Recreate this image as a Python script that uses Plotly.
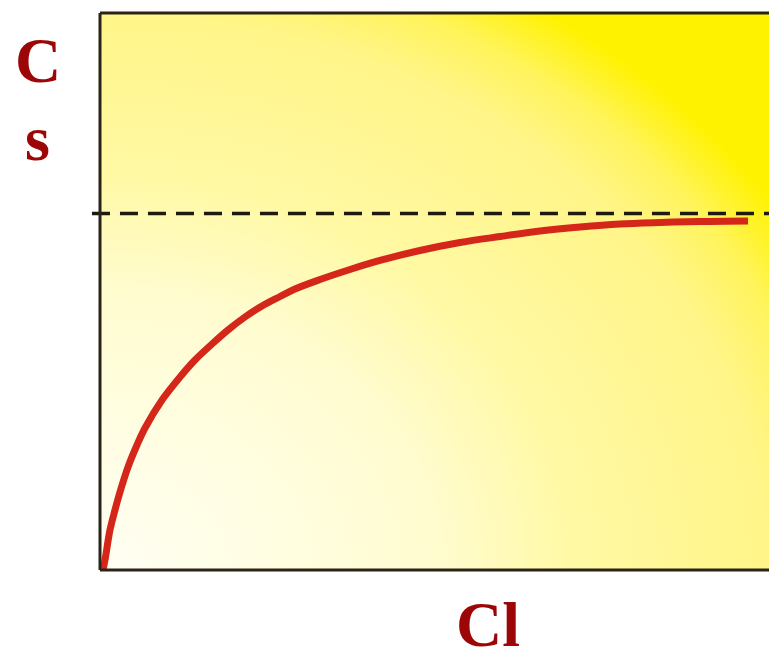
import base64
import plotly.graph_objects as go

# Isotherm: solid-phase concentration Cs against liquid-phase concentration Cl
cl_values = [0.45, 0.75, 1.49, 2.24, 2.99, 4.19, 5.53, 6.73, 9.27, 11.96,
             14.20, 16.74, 19.13, 21.67, 24.22, 26.91, 29.15, 32.89, 37.37,
             41.85, 47.83, 53.81, 59.79, 65.77, 71.75, 77.73, 83.71, 89.69,
             96.86]
cs_values = [0.0, 1.80, 7.18, 10.77, 14.00, 18.49, 22.44, 25.49, 30.52, 34.65,
             37.70, 40.57, 43.09, 45.42, 47.40, 49.10, 50.45, 52.15, 53.95,
             55.57, 57.36, 58.80, 59.87, 60.86, 61.58, 62.12, 62.39, 62.57,
             62.66]

# Saturation level (dashed asymptote)
cs_max = 64.0

x_range = [0, 100]
y_range = [0, 100]

# Soft yellow glow for the plotting area, brightest towards the top right
svg = (
    '<svg xmlns="http://www.w3.org/2000/svg" width="669" height="557" '
    'viewBox="0 0 669 557" preserveAspectRatio="none">'
    '<defs><radialGradient id="g" cx="0" cy="1" r="1.45" '
    'gradientUnits="objectBoundingBox">'
    '<stop offset="0" stop-color="#fffff4"/>'
    '<stop offset="0.345" stop-color="#fffcd0"/>'
    '<stop offset="0.49" stop-color="#fff9a4"/>'
    '<stop offset="0.69" stop-color="#fff588"/>'
    '<stop offset="0.76" stop-color="#fff45c"/>'
    '<stop offset="0.83" stop-color="#fff200"/>'
    '<stop offset="1" stop-color="#fff200"/>'
    '</radialGradient></defs>'
    '<rect x="0" y="0" width="669" height="557" fill="url(#g)"/></svg>'
)
bg_uri = "data:image/svg+xml;base64," + base64.b64encode(svg.encode()).decode()

fig = go.Figure()

fig.add_trace(go.Scatter(
    x=cl_values, y=cs_values, mode="lines",
    line=dict(color="#d42619", width=7, shape="spline", smoothing=1.0),
    hoverinfo="skip", showlegend=False,
))

fig.add_shape(
    type="line", xref="paper", yref="y",
    x0=-0.012, x1=1.0, y0=cs_max, y1=cs_max,
    line=dict(color="#1e1a10", width=3.5, dash="18px,10px"),
    layer="above",
)

# Frame: left, top and bottom edges
frame = dict(color="#2a2418", width=3)
fig.add_shape(type="line", xref="paper", yref="paper", x0=0, x1=0, y0=0, y1=1, line=frame)
fig.add_shape(type="line", xref="paper", yref="paper", x0=0, x1=1, y0=1, y1=1, line=frame)
fig.add_shape(type="line", xref="paper", yref="paper", x0=0, x1=1, y0=0, y1=0, line=frame)

label_font = dict(family="Liberation Serif, Times New Roman, serif",
                  size=64, color="#9c0606")
fig.add_annotation(text="<b>C</b>", xref="paper", yref="paper",
                   x=-0.092, y=0.915, xanchor="center", yanchor="middle",
                   showarrow=False, font=label_font)
fig.add_annotation(text="<b>s</b>", xref="paper", yref="paper",
                   x=-0.094, y=0.775, xanchor="center", yanchor="middle",
                   showarrow=False, font=label_font)
fig.add_annotation(text="<b>Cl</b>", xref="paper", yref="paper",
                   x=0.58, y=-0.030, xanchor="center", yanchor="top",
                   showarrow=False, font=label_font)

fig.update_layout(
    width=769, height=650,
    margin=dict(l=100, r=0, t=13, b=80),
    paper_bgcolor="white",
    plot_bgcolor="rgba(0,0,0,0)",
    images=[dict(source=bg_uri, xref="paper", yref="paper", x=0, y=1,
                 sizex=1, sizey=1, xanchor="left", yanchor="top",
                 sizing="stretch", layer="below")],
    xaxis=dict(range=x_range, showgrid=False, zeroline=False,
               showticklabels=False, ticks="", showline=False, fixedrange=True),
    yaxis=dict(range=y_range, showgrid=False, zeroline=False,
               showticklabels=False, ticks="", showline=False, fixedrange=True),
    showlegend=False,
)

fig.write_html("out.html", config={"displayModeBar": False})
